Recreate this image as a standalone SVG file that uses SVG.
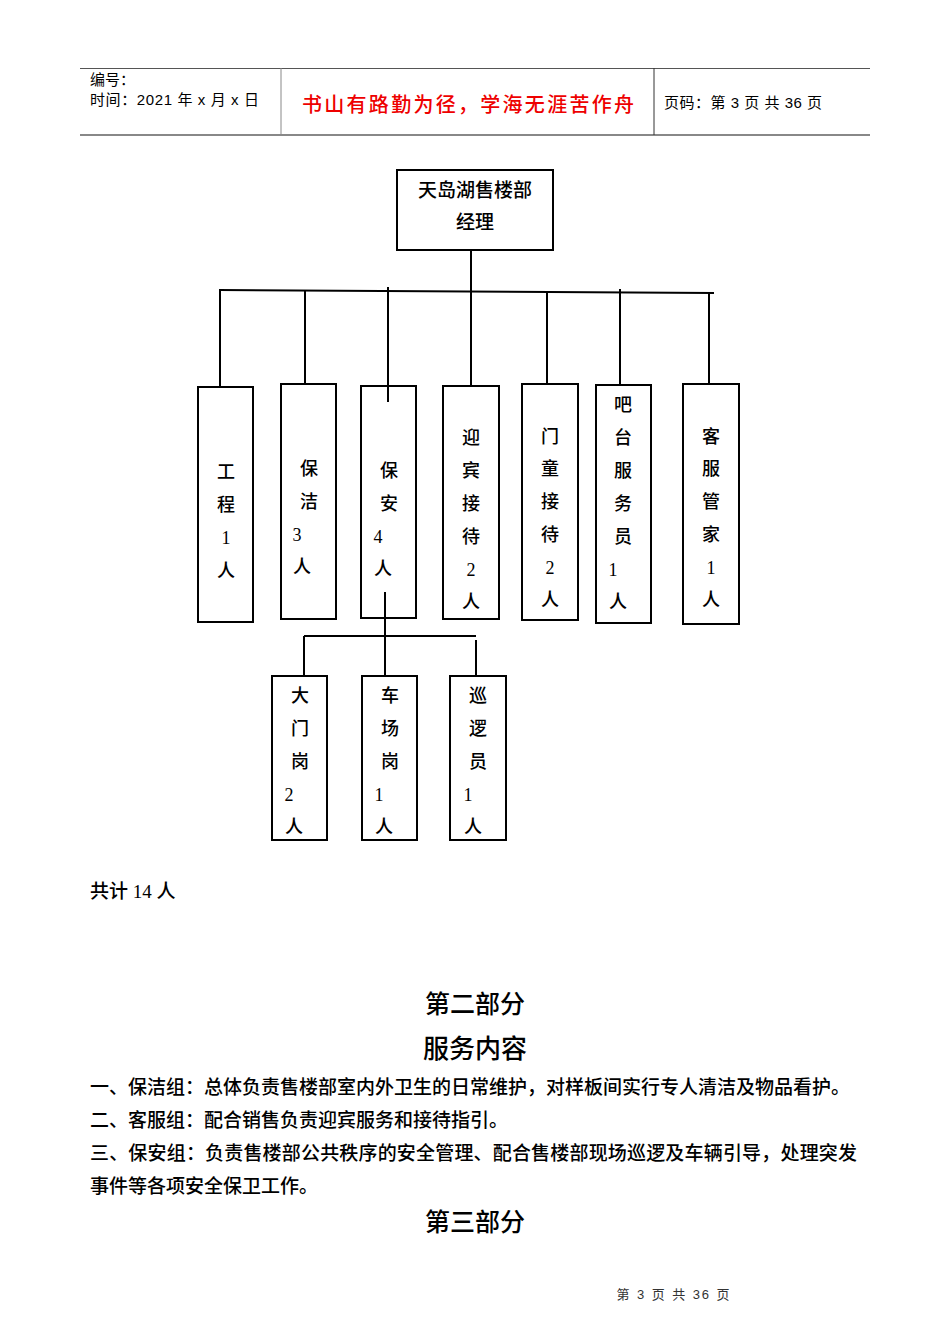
<svg xmlns="http://www.w3.org/2000/svg" width="950" height="1344" viewBox="0 0 950 1344">
<style>
.t{font-family:"Liberation Serif","Noto Sans CJK SC",serif;fill:#000;font-weight:500}
.s{font-family:"Liberation Sans","Noto Sans CJK SC",sans-serif;fill:#000}
.box{fill:#fff;stroke:#000;stroke-width:2}
.ln{stroke:#000;stroke-width:2;fill:none}
.v{font-size:18px;text-anchor:middle}
</style>
<rect width="950" height="1344" fill="#fff"/>
<g id="header">
<line x1="80" y1="68.5" x2="870" y2="68.5" stroke="#555" stroke-width="1"/>
<line x1="80" y1="135" x2="870" y2="135" stroke="#888" stroke-width="2"/>
<line x1="281" y1="68" x2="281" y2="135" stroke="#888" stroke-width="1"/>
<line x1="654" y1="68" x2="654" y2="135" stroke="#333" stroke-width="1"/>
<text class="s" x="90" y="85" font-size="15">编号：</text>
<text class="s" x="90" y="105" font-size="15" textLength="169">时间：2021 年 x 月 x 日</text>
<text class="s" x="468" y="112" font-size="20" font-weight="500" style="fill:#e00" text-anchor="middle" textLength="332">书山有路勤为径，学海无涯苦作舟</text>
<text class="s" x="664" y="108" font-size="15" textLength="158">页码：第 3 页  共 36 页</text>
</g>
<g id="connectors">
<line class="ln" x1="471" y1="250" x2="471" y2="291"/>
<line class="ln" x1="219" y1="290" x2="714" y2="293"/>
<line class="ln" x1="220" y1="290" x2="220" y2="387"/>
<line class="ln" x1="305" y1="290" x2="305" y2="384"/>
<line class="ln" x1="388" y1="287" x2="388" y2="402"/>
<line class="ln" x1="471" y1="291" x2="471" y2="386"/>
<line class="ln" x1="547" y1="292" x2="547" y2="384"/>
<line class="ln" x1="620" y1="289" x2="620" y2="385"/>
<line class="ln" x1="709" y1="292" x2="709" y2="384"/>
<line class="ln" x1="385" y1="592" x2="385" y2="676"/>
<line class="ln" x1="304" y1="636" x2="476" y2="636"/>
<line class="ln" x1="304" y1="636" x2="304" y2="676"/>
<line class="ln" x1="476" y1="640" x2="476" y2="676"/>
</g>
<g id="manager">
<rect class="box" x="397" y="170" width="156" height="80"/>
<text class="t" x="475" y="190" font-size="19" text-anchor="middle" dominant-baseline="central">天岛湖售楼部</text>
<text class="t" x="475" y="222" font-size="19" text-anchor="middle" dominant-baseline="central">经理</text>
</g>
<g id="n-gongcheng">
<rect class="box" x="198" y="387" width="55" height="235"/>
<g class="t v" dominant-baseline="central"><text x="226" y="472">工</text><text x="226" y="505">程</text><text x="226" y="538">1</text><text x="226" y="571">人</text></g>
</g>
<g id="n-baojie">
<rect class="box" x="281" y="384" width="55" height="235"/>
<g class="t v" dominant-baseline="central"><text x="309" y="469">保</text><text x="309" y="502">洁</text><text x="297" y="535">3</text><text x="302" y="567">人</text></g>
</g>
<g id="n-baoan">
<rect class="box" x="361" y="386" width="55" height="232"/>
<line class="ln" x1="388" y1="386" x2="388" y2="402"/>
<line class="ln" x1="385" y1="592" x2="385" y2="618"/>
<g class="t v" dominant-baseline="central"><text x="389" y="471">保</text><text x="389" y="504">安</text><text x="378" y="537">4</text><text x="383" y="569">人</text></g>
</g>
<g id="n-yingbin">
<rect class="box" x="443" y="386" width="56" height="233"/>
<g class="t v" dominant-baseline="central"><text x="471" y="438">迎</text><text x="471" y="471">宾</text><text x="471" y="504">接</text><text x="471" y="537">待</text><text x="471" y="570">2</text><text x="471" y="602">人</text></g>
</g>
<g id="n-mentong">
<rect class="box" x="522" y="384" width="56" height="236"/>
<g class="t v" dominant-baseline="central"><text x="550" y="437">门</text><text x="550" y="469">童</text><text x="550" y="502">接</text><text x="550" y="535">待</text><text x="550" y="568">2</text><text x="550" y="600">人</text></g>
</g>
<g id="n-bataifuwuyuan">
<rect class="box" x="596" y="385" width="55" height="238"/>
<g class="t v" dominant-baseline="central"><text x="623" y="405">吧</text><text x="623" y="438">台</text><text x="623" y="471">服</text><text x="623" y="504">务</text><text x="623" y="537">员</text><text x="613" y="570">1</text><text x="618" y="602">人</text></g>
</g>
<g id="n-kefuguanjia">
<rect class="box" x="683" y="384" width="56" height="240"/>
<g class="t v" dominant-baseline="central"><text x="711" y="437">客</text><text x="711" y="469">服</text><text x="711" y="502">管</text><text x="711" y="535">家</text><text x="711" y="568">1</text><text x="711" y="600">人</text></g>
</g>
<g id="n-damengang">
<rect class="box" x="272" y="676" width="55" height="164"/>
<g class="t v" dominant-baseline="central"><text x="300" y="696">大</text><text x="300" y="729">门</text><text x="300" y="762">岗</text><text x="289" y="795">2</text><text x="294" y="827">人</text></g>
</g>
<g id="n-chechanggang">
<rect class="box" x="362" y="676" width="55" height="164"/>
<g class="t v" dominant-baseline="central"><text x="390" y="696">车</text><text x="390" y="729">场</text><text x="390" y="762">岗</text><text x="379" y="795">1</text><text x="384" y="827">人</text></g>
</g>
<g id="n-xunluoyuan">
<rect class="box" x="450" y="676" width="56" height="164"/>
<g class="t v" dominant-baseline="central"><text x="478" y="696">巡</text><text x="478" y="729">逻</text><text x="478" y="762">员</text><text x="468" y="795">1</text><text x="473" y="827">人</text></g>
</g>
<g id="body" class="t" font-size="19">
<text x="90" y="898">共计 14 人</text>
<text x="475" y="1013" font-size="25" text-anchor="middle">第二部分</text>
<text x="475" y="1058" font-size="26" text-anchor="middle">服务内容</text>
<text x="90" y="1094" textLength="760">一、保洁组：总体负责售楼部室内外卫生的日常维护，对样板间实行专人清洁及物品看护。</text>
<text x="90" y="1127">二、客服组：配合销售负责迎宾服务和接待指引。</text>
<text x="90" y="1160" textLength="767">三、保安组：负责售楼部公共秩序的安全管理、配合售楼部现场巡逻及车辆引导，处理突发</text>
<text x="90" y="1193">事件等各项安全保卫工作。</text>
<text x="475" y="1231" font-size="25" text-anchor="middle">第三部分</text>
</g>
<g id="footer">
<text class="s" x="673" y="1299" font-size="13" text-anchor="middle" textLength="113" style="fill:#333">第 3 页 共 36 页</text>
</g>
</svg>
